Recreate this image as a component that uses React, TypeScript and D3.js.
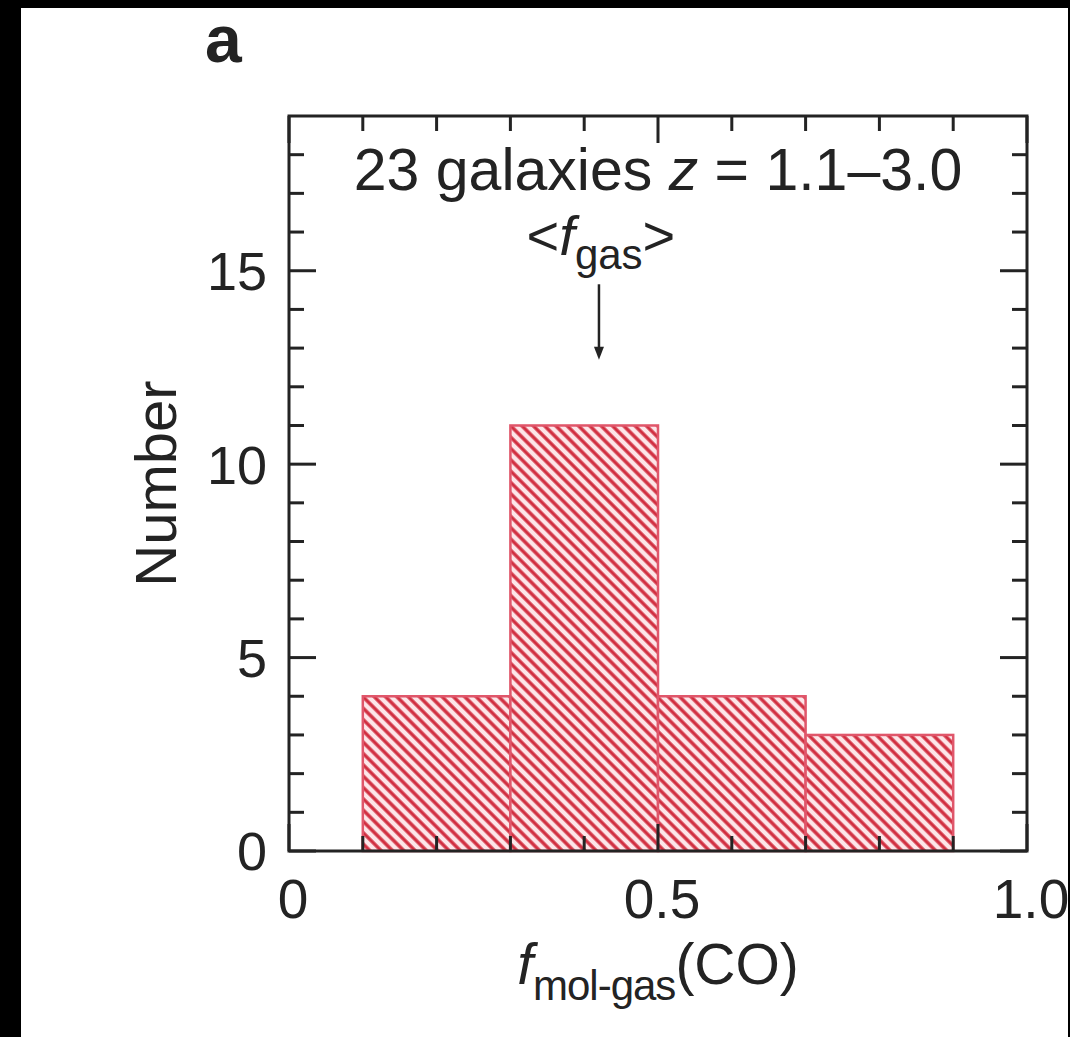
import { useEffect } from "react";
import * as d3 from "d3";

// histogram bins (f_mol-gas edges) and galaxy counts
const binEdges = [0.1, 0.3, 0.5, 0.7, 0.9];
const counts = [4, 11, 4, 3];

const yMajorTicks = [0, 5, 10, 15];
const xMajorTicks = [0, 0.5, 1.0];
const xTickLabels = ["0", "0.5", "1.0"];

// arrow marking the mean gas fraction
const meanFgas = 0.42;
const arrowFrom = 14.65;
const arrowTo = 12.7;

const W = 1070;
const H = 1037;
const margin = { top: 116, right: 43, bottom: 186, left: 289 };
const font = "'Liberation Sans', Arial, Helvetica, sans-serif";
const ink = "#232323";

export default function App() {
  useEffect(() => {
    document.body.style.margin = "0";
  }, []);

  const x = d3.scaleLinear().domain([0, 1]).range([margin.left, W - margin.right]);
  const y = d3.scaleLinear().domain([0, 19]).range([H - margin.bottom, margin.top]);

  const [x0, x1] = x.range();
  const [y0, y1] = y.range();

  const xMinor = d3.range(0, 1.0001, 0.1);
  const yMinor = d3.range(0, 19, 1);
  const isMajorX = (v: number) => xMajorTicks.some((t) => Math.abs(t - v) < 1e-6);
  const isMajorY = (v: number) => yMajorTicks.includes(v);
  const major = 27;
  const minor = 15;

  const bins = counts.map((c, i) => ({ x0: binEdges[i], x1: binEdges[i + 1], n: c }));

  return (
    <svg width={W} height={H} style={{ display: "block" }} fontFamily={font}>
      <defs>
        <pattern
          id="hatch"
          patternUnits="userSpaceOnUse"
          width={8}
          height={8}
          patternTransform="rotate(-45)"
        >
          <rect width={8} height={8} fill="#fde6e9" />
          <line x1={4} y1={-1} x2={4} y2={9} stroke="#d12e40" strokeWidth={3.4} />
        </pattern>
      </defs>
      <rect width={W} height={H} fill="#000" />
      <rect x={21} y={8} width={W - 23} height={H - 8} fill="#fff" />

      <text x={205} y={62} fontSize={66} fontWeight="bold" fill={ink}>
        a
      </text>

      {/* bars */}
      {bins.map((b, i) => (
        <rect
          key={i}
          x={x(b.x0)}
          y={y(b.n)}
          width={x(b.x1) - x(b.x0)}
          height={y(0) - y(b.n)}
          fill="url(#hatch)"
          stroke="#e0566a"
          strokeWidth={2.5}
        />
      ))}

      {/* ticks on all four sides */}
      <g stroke={ink} strokeWidth={3}>
        {xMinor.map((v, i) => {
          const len = isMajorX(v) ? major : minor;
          return (
            <g key={"x" + i}>
              <line x1={x(v)} x2={x(v)} y1={y0} y2={y0 - len} />
              <line x1={x(v)} x2={x(v)} y1={y1} y2={y1 + len} />
            </g>
          );
        })}
        {yMinor.map((v, i) => {
          const len = isMajorY(v) ? major : minor;
          return (
            <g key={"y" + i}>
              <line x1={x0} x2={x0 + len} y1={y(v)} y2={y(v)} />
              <line x1={x1} x2={x1 - len} y1={y(v)} y2={y(v)} />
            </g>
          );
        })}
        <rect x={x0} y={y1} width={x1 - x0} height={y0 - y1} fill="none" />
      </g>

      {/* tick labels */}
      {yMajorTicks.map((v) => (
        <text
          key={"yl" + v}
          x={x0 - 22}
          y={y(v)}
          dy="0.36em"
          textAnchor="end"
          fontSize={54}
          fill={ink}
        >
          {v}
        </text>
      ))}
      {xMajorTicks.map((v, i) => (
        <text key={"xl" + v} x={x(v) + 4} y={918} textAnchor="middle" fontSize={55} fill={ink}>
          {xTickLabels[i]}
        </text>
      ))}

      {/* axis titles */}
      <text
        transform={`translate(${x0 - 113},${(y0 + y1) / 2}) rotate(-90)`}
        textAnchor="middle"
        fontSize={58}
        fill={ink}
      >
        Number
      </text>
      <text x={(x0 + x1) / 2} y={984} textAnchor="middle" fontSize={57} fill={ink}>
        <tspan fontStyle="italic">f</tspan>
        <tspan fontSize={42} dy={16} letterSpacing={-1}>
          mol-gas
        </tspan>
        <tspan dy={-16}>(CO)</tspan>
      </text>

      {/* annotation */}
      <text x={(x0 + x1) / 2} y={190} textAnchor="middle" fontSize={59} fill={ink}>
        23 galaxies <tspan fontStyle="italic">z</tspan> = 1.1–3.0
      </text>
      <text x={x(meanFgas) + 2} y={255} textAnchor="middle" fontSize={56} fill={ink}>
        &lt;<tspan fontStyle="italic">f</tspan>
        <tspan fontSize={42} dy={14}>
          gas
        </tspan>
        <tspan dy={-14}>&gt;</tspan>
      </text>
      <line
        x1={x(meanFgas)}
        x2={x(meanFgas)}
        y1={y(arrowFrom)}
        y2={y(arrowTo) - 10}
        stroke={ink}
        strokeWidth={2.5}
      />
      <path
        d={`M${x(meanFgas) - 5},${y(arrowTo) - 13} L${x(meanFgas) + 5},${y(arrowTo) - 13} L${x(meanFgas)},${y(arrowTo)} Z`}
        fill={ink}
      />
    </svg>
  );
}
